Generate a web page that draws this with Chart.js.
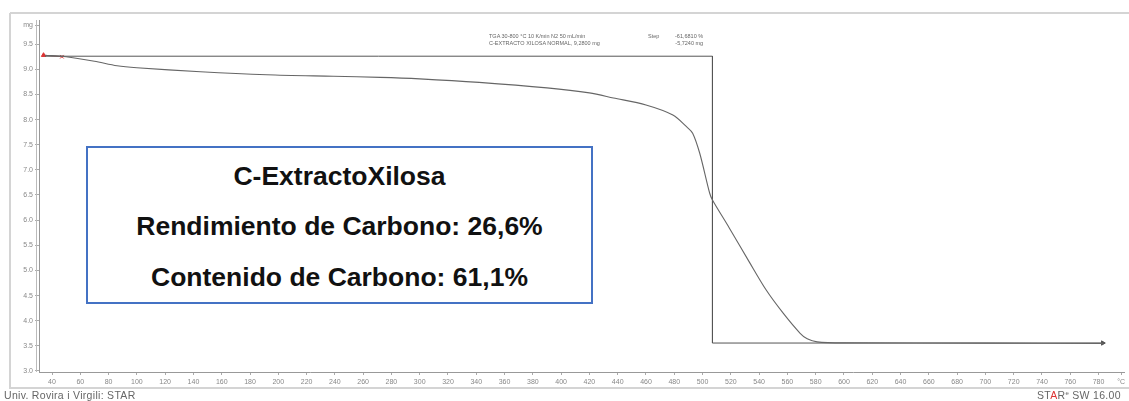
<!DOCTYPE html>
<html>
<head>
<meta charset="utf-8">
<title>TGA C-ExtractoXilosa</title>
<script src="https://cdn.jsdelivr.net/npm/chart.js@4.4.1/dist/chart.umd.min.js"></script>
<style>
  body { margin: 0; background: #fff; font-family: "Liberation Sans", Arial, sans-serif; }
  #wrap { position: relative; width: 1129px; height: 401px; overflow: hidden; }
  #tga { position: absolute; left: 0; top: 0; }
  .info { position: absolute; left: 86px; top: 146px; width: 503px; height: 154px; border: 2px solid #4472c4; background: #fff; }
  .info div { position: absolute; left: 0; width: 100%; text-align: center; font-weight: bold; font-size: 26.5px; line-height: 30px; color: #111; }
  .note { position: absolute; font-size: 5.5px; line-height: 7px; color: #666; white-space: nowrap; }
  .foot { position: absolute; top: 389px; font-size: 10.5px; letter-spacing: 0.3px; color: #666; white-space: nowrap; }
  .red { color: #d33; }
</style>
</head>
<body>
<div id="wrap">
  <canvas id="tga" width="1129" height="401"></canvas>

  <div class="note" style="left:489px; top:33px;">TGA 30-800 °C 10 K/min N2 50 mL/min<br>C-EXTRACTO XILOSA NORMAL, 9,2800 mg</div>
  <div class="note" style="left:648px; top:33px;">Step</div>
  <div class="note" style="left:675px; top:33px; text-align:right;">-61,6810 %<br>-5,7240 mg</div>

  <div class="info">
    <div style="top:13px;">C-ExtractoXilosa</div>
    <div style="top:63px;">Rendimiento de Carbono: 26,6%</div>
    <div style="top:114px;">Contenido de Carbono: 61,1%</div>
  </div>

  <div class="foot" style="left:4px;">Univ. Rovira i Virgili: STAR</div>
  <div class="foot" style="left:1037px;">ST<span class="red">A</span>R<sup style="font-size:6px">e</sup> SW 16.00</div>
</div>

<script>
// temperature (°C) and sample mass (mg)
const temps = [35, 50, 70, 86, 100, 145, 192, 239, 272, 300, 342, 390, 420, 437, 460, 479, 489, 493, 498, 505, 507, 519, 533, 545, 557, 569, 574, 581, 600, 700, 783];
const mass = [9.28, 9.25, 9.16, 9.07, 9.03, 8.95, 8.89, 8.86, 8.84, 8.81, 8.74, 8.63, 8.53, 8.43, 8.29, 8.09, 7.85, 7.73, 7.33, 6.54, 6.40, 5.84, 5.17, 4.61, 4.15, 3.75, 3.64, 3.58, 3.56, 3.555, 3.55];

// step evaluation: left level, step temperature, residue level
const stepTemps = [35, 507, 507, 783];
const stepLevels = [9.26, 9.26, 3.556, 3.556];

// start markers
const startTemps = [34, 47];
const startMass = [9.28, 9.25];

const xTicks = [];
for (let t = 40; t <= 780; t += 20) xTicks.push(t);
const yTicks = [3.0, 3.5, 4.0, 4.5, 5.0, 5.5, 6.0, 6.5, 7.0, 7.5, 8.0, 8.5, 9.0, 9.5];

const xMin = 30.8, xMax = 798;
const yMin = 2.98, yMax = 9.98;

function toPoints(xs, ys) {
  let pts = [];
  for (let i = 0; i < xs.length; i++) {
    pts.push({ x: xs[i], y: ys[i] });
  }
  return pts;
}

// light frame around the plot, like the instrument printout
const framePlugin = {
  id: "frame",
  afterDraw(chart) {
    const ctx = chart.ctx;
    const area = chart.chartArea;
    ctx.save();
    ctx.strokeStyle = "#d4d4d4";
    ctx.lineWidth = 2;
    ctx.beginPath();
    ctx.moveTo(10, 13);
    ctx.lineTo(1129, 13);
    ctx.moveTo(10, 13);
    ctx.lineTo(10, 388);
    ctx.lineTo(1129, 388);
    ctx.stroke();
    ctx.strokeStyle = "#bbb";
    ctx.lineWidth = 1;
    ctx.beginPath();
    ctx.moveTo(area.left - 2.5, area.top);
    ctx.lineTo(area.left - 2.5, area.bottom);
    ctx.stroke();
    ctx.restore();
  },
};

const ctx = document.getElementById("tga");

new Chart(ctx, {
  type: "scatter",
  data: {
    datasets: [
      {
        label: "TGA",
        data: toPoints(temps, mass),
        showLine: true,
        borderColor: "#666",
        borderWidth: 1.1,
        pointRadius: 0,
        tension: 0.3,
      },
      {
        label: "Step",
        data: toPoints(stepTemps, stepLevels),
        showLine: true,
        borderColor: "#555",
        borderWidth: 1,
        pointRadius: [0, 0, 0, 2.5],
        pointStyle: "triangle",
        rotation: 90,
        pointBackgroundColor: "#555",
        pointBorderColor: "#555",
        tension: 0,
      },
      {
        label: "Start",
        data: toPoints(startTemps, startMass),
        showLine: true,
        borderColor: "#e06060",
        borderWidth: 1,
        pointRadius: 2.5,
        pointStyle: ["triangle", "crossRot"],
        pointBackgroundColor: "#d33",
        pointBorderColor: "#d33",
      },
    ],
  },
  options: {
    responsive: false,
    animation: false,
    layout: { padding: { left: 10, top: 20, right: 4, bottom: 0 } },
    plugins: {
      legend: { display: false },
      tooltip: { enabled: false },
    },
    scales: {
      x: {
        type: "linear",
        min: xMin,
        max: xMax,
        afterBuildTicks: (scale) => {
          scale.ticks = xTicks.map((v) => ({ value: v })).concat([{ value: 796 }]);
        },
        afterFit: (scale) => {
          scale.height = 29;
        },
        ticks: {
          autoSkip: false,
          maxRotation: 0,
          padding: 3,
          color: "#888",
          font: { family: "Liberation Sans", size: 7 },
          callback: (value) => (value > 790 ? "°C" : value),
        },
        grid: { drawOnChartArea: false, tickLength: 3, color: "#aaa" },
        border: { color: "#999", width: 1 },
      },
      y: {
        type: "linear",
        min: yMin,
        max: yMax,
        afterBuildTicks: (scale) => {
          scale.ticks = yTicks.map((v) => ({ value: v })).concat([{ value: 9.88 }]);
        },
        afterFit: (scale) => {
          scale.width = 29;
        },
        ticks: {
          autoSkip: false,
          padding: 2,
          color: "#888",
          font: { family: "Liberation Sans", size: 7 },
          callback: (value) => (value > 9.8 ? "mg" : value.toFixed(1)),
        },
        grid: { drawOnChartArea: false, tickLength: 4, color: "#aaa" },
        border: { color: "#999", width: 1 },
      },
    },
  },
  plugins: [framePlugin],
});
</script>
</body>
</html>
